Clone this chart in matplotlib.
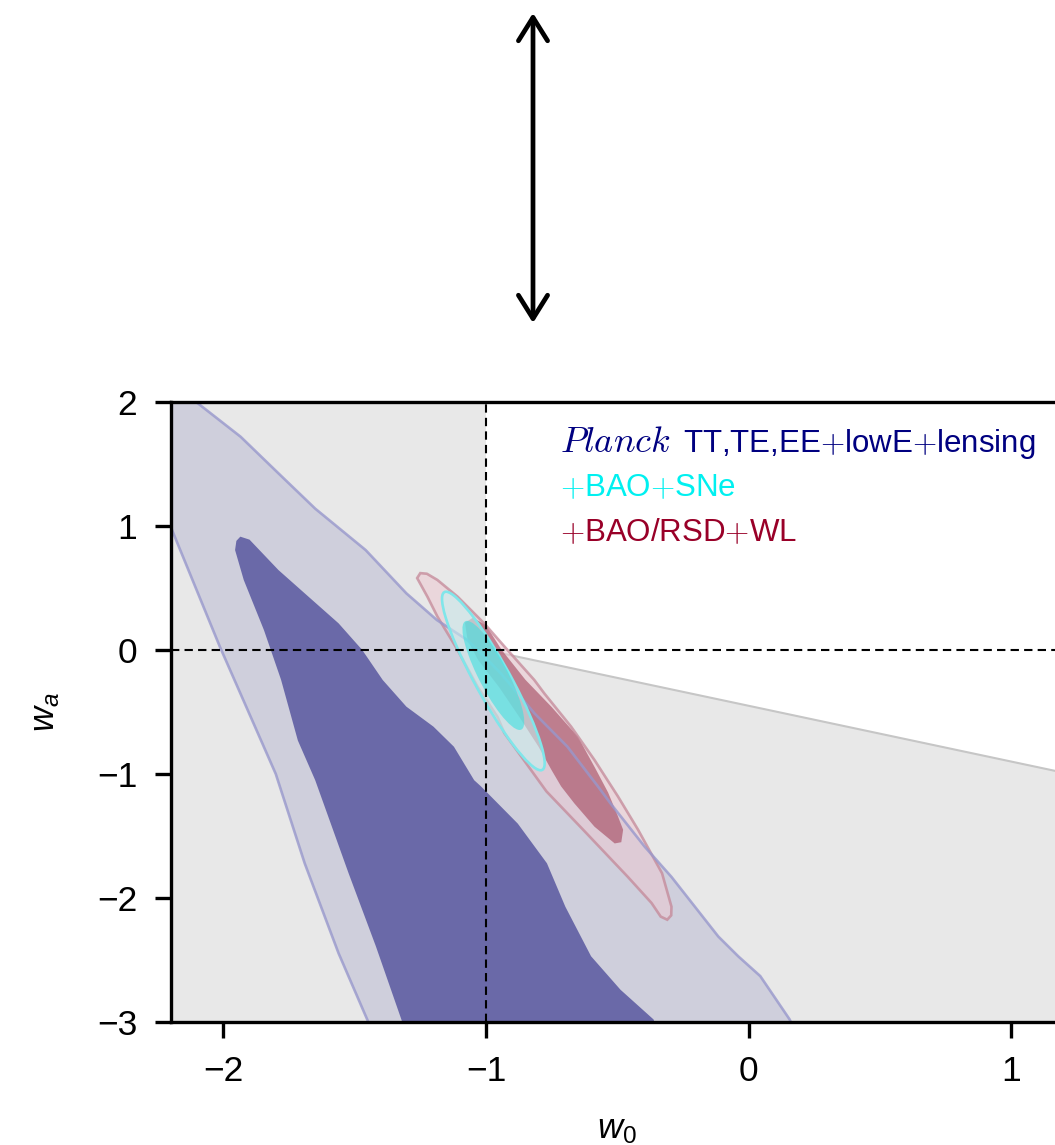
import matplotlib
matplotlib.use("Agg")
import matplotlib.pyplot as plt
from matplotlib.patches import Polygon, Ellipse
from matplotlib.transforms import Affine2D

plt.rcParams['font.family'] = ['Liberation Sans', 'DejaVu Sans']
plt.rcParams['mathtext.fontset'] = 'custom'
plt.rcParams['mathtext.it'] = 'Liberation Sans:italic'
plt.rcParams['mathtext.rm'] = 'Liberation Sans'

# ticks
w0_ticks = [-2, -1, 0, 1]
wa_ticks = [-3, -2, -1, 0, 1, 2]

# edge of the excluded prior region (w0 > -1)
prior_w0 = [-1.0, 1.3]
prior_wa = [0.0, -1.035]

# Planck TT,TE,EE+lowE+lensing, 95% and 68% regions
planck2_w0 = [-2.16, -2.103, -1.934, -1.79, -1.65, -1.458, -1.303, -1.187, -1.071,
              -0.994, -0.943, -0.816, -0.69, -0.574, -0.525, -0.396, -0.294, -0.205,
              -0.116, -0.04, 0.044, 0.156, 0.2,
              -1.41, -1.452, -1.561, -1.69, -1.80, -2.013, -2.2,
              -2.3, -2.3]
planck2_wa = [2.2, 2.0, 1.72, 1.425, 1.14, 0.806, 0.457, 0.242, 0.08,
              -0.08, -0.19, -0.51, -0.78, -1.10, -1.24, -1.586, -1.83, -2.07,
              -2.31, -2.47, -2.63, -2.98, -3.2,
              -3.2, -2.98, -2.446, -1.72, -1.0, 0.027, 0.994,
              1.25, 2.2]

planck1_w0 = [-1.29, -1.322, -1.419, -1.523, -1.65, -1.716, -1.78, -1.845, -1.922,
              -1.955, -1.95, -1.935, -1.9, -1.79, -1.69, -1.561, -1.471, -1.393,
              -1.303, -1.2, -1.122, -1.045, -1.019, -0.879, -0.768, -0.698, -0.6,
              -0.488, -0.362, -0.33]
planck1_wa = [-3.2, -2.98, -2.39, -1.80, -1.05, -0.73, -0.24, 0.16, 0.565,
              0.806, 0.88, 0.914, 0.89, 0.645, 0.457, 0.215, 0.0, -0.242,
              -0.457, -0.618, -0.78, -1.05, -1.10, -1.40, -1.72, -2.07, -2.47,
              -2.74, -2.98, -3.2]

# +BAO/RSD+WL
rsd2_w0 = [-1.262, -1.25, -1.225, -1.185, -1.108, -1.007, -0.918, -0.816, -0.778,
           -0.676, -0.587, -0.498, -0.421, -0.33, -0.294, -0.295, -0.31, -0.335,
           -0.37, -0.46, -0.63, -0.77, -0.93, -0.956, -1.032, -1.108, -1.185, -1.223]
rsd2_wa = [0.58, 0.62, 0.615, 0.565, 0.43, 0.215, 0.0, -0.242, -0.35,
           -0.618, -0.887, -1.18, -1.45, -1.8, -2.07, -2.14, -2.175, -2.15,
           -2.04, -1.83, -1.45, -1.14, -0.67, -0.54, -0.296, 0.0, 0.27, 0.43]

rsd1_w0 = [-1.08, -1.05, -1.0, -0.94, -0.85, -0.75, -0.65, -0.585, -0.535, -0.498,
           -0.478, -0.485, -0.51, -0.587, -0.664, -0.714, -0.75, -0.8, -0.87,
           -0.95, -1.03, -1.07]
rsd1_wa = [0.22, 0.26, 0.2, 0.0, -0.24, -0.46, -0.70, -0.95, -1.15, -1.34,
           -1.45, -1.55, -1.56, -1.425, -1.236, -1.10, -0.97, -0.78, -0.55,
           -0.3, -0.08, 0.08]

# +BAO+SNe: centre, top point and half width of the 95% / 68% ellipses
sne2_centre = (-0.972, -0.25)
sne2_top = (-1.152, 0.47)
sne2_halfwidth = 0.076
sne1_centre = (-0.972, -0.205)
sne1_top = (-1.072, 0.235)
sne1_halfwidth = 0.062

legend_lines = [r"TT,TE,EE$+$lowE$+$lensing", r"$+$BAO$+$SNe", r"$+$BAO/RSD$+$WL"]
legend_colors = ['#000080', '#00f0f0', '#990028']


def add_ellipse(ax, centre, top, halfwidth, **kw):
    a = (top[0] - centre[0], top[1] - centre[1])
    tr = Affine2D.from_values(halfwidth, 0, a[0], a[1], centre[0], centre[1]) + ax.transData
    e = Ellipse((0, 0), 2, 2, transform=tr, **kw)
    ax.add_patch(e)
    return e


fig = plt.figure(figsize=(10.55, 11.45), dpi=100)
ax = fig.add_axes([170.7 / 1055, 123 / 1145, (1064 - 170.7) / 1055, 620 / 1145])
ax.set_xlim(-2.2, 1.2)
ax.set_ylim(-3, 2)

# excluded region (light grey)
grey_w0 = [-2.3, -1.0] + prior_w0 + [1.3, -2.3]
grey_wa = [2.2, 2.2] + prior_wa + [-3.2, -3.2]
ax.add_patch(Polygon(list(zip(grey_w0, grey_wa)), closed=True, fc='#e8e8e8', ec='none', zorder=0.5))
ax.plot(prior_w0, prior_wa, color='#c6c6c6', lw=1.5, zorder=0.6)

# Planck
ax.add_patch(Polygon(list(zip(planck2_w0, planck2_wa)), closed=True, fc='#cfcfdc', ec='none', zorder=1))
ax.add_patch(Polygon(list(zip(planck1_w0, planck1_wa)), closed=True, fc='#6a69a8', ec='none', zorder=1.1))

# +BAO/RSD+WL
ax.add_patch(Polygon(list(zip(rsd2_w0, rsd2_wa)), closed=True, fc='#ecc8d2', alpha=0.55, ec='none', zorder=2))
ax.add_patch(Polygon(list(zip(rsd1_w0, rsd1_wa)), closed=True, fc='#a2445c', alpha=0.6, ec='none', zorder=2.1))
ax.add_patch(Polygon(list(zip(rsd2_w0, rsd2_wa)), closed=True, fill=False, ec='#c48898', alpha=0.75,
                     lw=1.9, zorder=2.2))

# Planck outline drawn through the other fills
ax.add_patch(Polygon(list(zip(planck2_w0, planck2_wa)), closed=True, fill=False, ec='#9898cc',
                     alpha=0.8, lw=1.9, zorder=2.5))

# +BAO+SNe
add_ellipse(ax, sne2_centre, sne2_top, sne2_halfwidth, fc='#c8f0f0', alpha=0.6, ec='none', zorder=3)
add_ellipse(ax, sne2_centre, sne2_top, sne2_halfwidth, fill=False, ec='#80e6ea', lw=1.9, zorder=3.1)
add_ellipse(ax, sne1_centre, sne1_top, sne1_halfwidth, fc='#3ee0e0', alpha=0.6, ec='none', zorder=3.2)

# reference lines
ax.axvline(-1, color='k', lw=1.5, dashes=(4, 2.5), zorder=4)
ax.axhline(0, color='k', lw=1.5, dashes=(4, 2.5), zorder=4)

# legend text
ax.text(0.4358, 0.919, r"$Planck$", color=legend_colors[0], fontsize=26, transform=ax.transAxes,
        va='baseline', ha='left', math_fontfamily='cm', zorder=5)
ax.text((683 - 170.7) / 893.3, 0.919, legend_lines[0], color=legend_colors[0], fontsize=22.5,
        transform=ax.transAxes, va='baseline', ha='left', math_fontfamily='cm', zorder=5)
for i in (1, 2):
    ax.text(0.4358, 0.919 - i * 0.0715, legend_lines[i], color=legend_colors[i], fontsize=22.5,
            transform=ax.transAxes, va='baseline', ha='left', math_fontfamily='cm', zorder=5)

ax.set_xticks(w0_ticks)
ax.set_yticks(wa_ticks)
ax.tick_params(direction='out', length=11.5, width=2.4, labelsize=25.5, pad=12.5)
for s in ax.spines.values():
    s.set_linewidth(2.4)

ax.set_xlabel(r"$w_0$", fontsize=25)
ax.set_ylabel(r"$w_a$", fontsize=25)
ax.xaxis.set_label_coords(0.5, -0.146)
ax.yaxis.set_label_coords(-0.122, 0.5)

# double arrow above the panel
ax.annotate('', xy=(533, 1145 - 13), xycoords='figure pixels',
            xytext=(533, 1145 - 323), textcoords='figure pixels',
            arrowprops=dict(arrowstyle='<->,head_length=0.4,head_width=0.25', lw=3.4, color='k',
                            shrinkA=0, shrinkB=0, mutation_scale=42),
            annotation_clip=False)

fig.savefig("out.png", dpi=100)
